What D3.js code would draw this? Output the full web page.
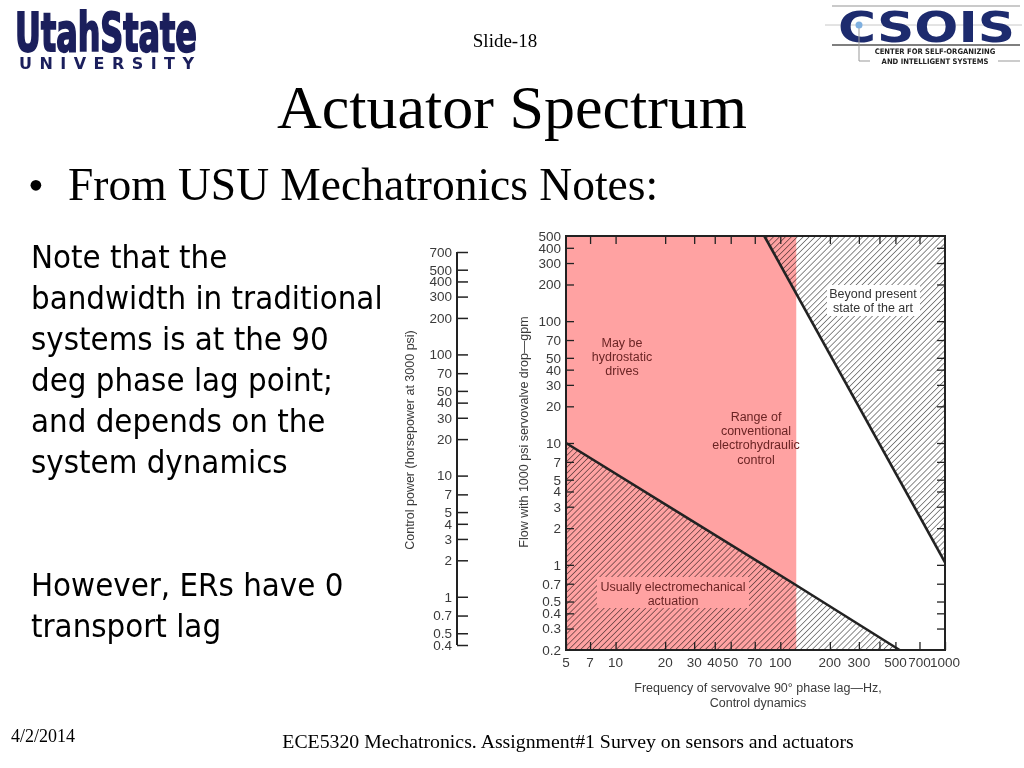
<!DOCTYPE html>
<html>
<head>
<meta charset="utf-8">
<script src="https://d3js.org/d3.v7.min.js"></script>
<style>
  body { margin: 0; background: #fff; }
  svg { display: block; }
</style>
</head>
<body>
<div id="slide"></div>
<script>
// Constants
const FRAME_WIDTH = 1024;
const FRAME_HEIGHT = 768;

// chart data
const FREQ_TICKS = [5, 7, 10, 20, 30, 40, 50, 70, 100, 200, 300, 400, 500, 700, 1000];
const FREQ_LABELS = [5, 7, 10, 20, 30, 40, 50, 70, 100, 200, 300, 500, 700, 1000];
const FLOW_TICKS = [500, 400, 300, 200, 100, 70, 50, 40, 30, 20, 10, 7, 5, 4, 3, 2, 1, 0.7, 0.5, 0.4, 0.3, 0.2];
const POWER_TICKS = [700, 500, 400, 300, 200, 100, 70, 50, 40, 30, 20, 10, 7, 5, 4, 3, 2, 1, 0.7, 0.5, 0.4];

// boundary lines [frequency Hz, flow gpm]
const ELECTROMECH_LINE = [[5, 10], [125, 0.68], [530, 0.2]];
const STATE_OF_ART_LINE = [[80, 500], [1000, 1.05]];
// conventional electrohydraulic range ends here (Hz)
const CONVENTIONAL_MAX = 125;

// slide texts
const NOTE_LINES = ["Note that the", "bandwidth in traditional", "systems is at the 90",
  "deg phase lag point;", "and depends on the", "system dynamics"];
const ER_LINES = ["However, ERs have 0", "transport lag"];

const svg = d3.select("#slide")
    .append("svg")
    .attr("width", FRAME_WIDTH)
    .attr("height", FRAME_HEIGHT);

// hatch pattern
const defs = svg.append("defs");
defs.append("pattern")
    .attr("id", "hatch")
    .attr("patternUnits", "userSpaceOnUse")
    .attr("width", 4.2)
    .attr("height", 4.2)
    .attr("patternTransform", "rotate(45)")
    .append("line")
    .attr("x1", 0).attr("y1", 0).attr("x2", 0).attr("y2", 4.2)
    .attr("stroke", "#2a2a2a")
    .attr("stroke-width", 1.1);

// ---------- slide header ----------
svg.append("text")
    .attr("x", 505).attr("y", 47)
    .attr("text-anchor", "middle")
    .attr("font-family", "Liberation Serif")
    .attr("font-size", 19)
    .text("Slide-18");

svg.append("text")
    .attr("x", 512).attr("y", 128)
    .attr("text-anchor", "middle")
    .attr("font-family", "Liberation Serif")
    .attr("font-size", 62)
    .text("Actuator Spectrum");

svg.append("text")
    .attr("x", 28).attr("y", 200)
    .attr("font-family", "Liberation Serif")
    .attr("font-size", 45)
    .text("•");
svg.append("text")
    .attr("x", 68).attr("y", 200)
    .attr("font-family", "Liberation Serif")
    .attr("font-size", 45.5)
    .text("From USU Mechatronics Notes:");

// left notes
svg.selectAll(".note")
    .data(NOTE_LINES)
    .enter()
    .append("text")
    .attr("class", "note")
    .attr("x", 31)
    .attr("y", (d, i) => 268 + i * 41)
    .attr("font-family", "DejaVu Sans Condensed, DejaVu Sans")
    .attr("font-size", 32.7)
    .text(d => d);

svg.selectAll(".er")
    .data(ER_LINES)
    .enter()
    .append("text")
    .attr("class", "er")
    .attr("x", 31)
    .attr("y", (d, i) => 596 + i * 41)
    .attr("font-family", "DejaVu Sans Condensed, DejaVu Sans")
    .attr("font-size", 32.7)
    .text(d => d);

// footer
svg.append("text")
    .attr("x", 11).attr("y", 742)
    .attr("font-family", "Liberation Serif")
    .attr("font-size", 18)
    .text("4/2/2014");
svg.append("text")
    .attr("x", 568).attr("y", 748)
    .attr("text-anchor", "middle")
    .attr("font-family", "Liberation Serif")
    .attr("font-size", 19.8)
    .text("ECE5320 Mechatronics. Assignment#1 Survey on sensors and actuators");

// ---------- logos ----------
const NAVY = "#1b1f5c";
svg.append("text")
    .attr("x", 15).attr("y", 51)
    .attr("font-family", "DejaVu Sans Condensed, DejaVu Sans")
    .attr("font-weight", "bold")
    .attr("font-size", 53)
    .attr("textLength", 182)
    .attr("lengthAdjust", "spacingAndGlyphs")
    .attr("fill", NAVY)
    .attr("stroke", NAVY)
    .attr("stroke-width", 2)
    .text("UtahState");
svg.append("text")
    .attr("x", 19).attr("y", 69)
    .attr("font-family", "DejaVu Sans")
    .attr("font-weight", "bold")
    .attr("font-size", 16)
    .attr("textLength", 175)
    .attr("lengthAdjust", "spacing")
    .attr("fill", NAVY)
    .text("UNIVERSITY");

const csois = svg.append("g");
csois.append("line")
    .attr("x1", 832).attr("x2", 1020).attr("y1", 6).attr("y2", 6)
    .attr("stroke", "#b8b8b8").attr("stroke-width", 1.5);
csois.append("line")
    .attr("x1", 825).attr("x2", 1022).attr("y1", 25).attr("y2", 25)
    .attr("stroke", "#c8c8c8").attr("stroke-width", 1);
csois.append("text")
    .attr("x", 838).attr("y", 42)
    .attr("font-family", "DejaVu Sans")
    .attr("font-weight", "bold")
    .attr("font-size", 42)
    .attr("textLength", 177)
    .attr("lengthAdjust", "spacingAndGlyphs")
    .attr("fill", "#1d2b6e")
    .text("CSOIS");
csois.append("line")
    .attr("x1", 832).attr("x2", 1020).attr("y1", 45).attr("y2", 45)
    .attr("stroke", "#555").attr("stroke-width", 1.5);
csois.append("polyline")
    .attr("points", "859,25 859,61 870,61")
    .attr("fill", "none")
    .attr("stroke", "#999").attr("stroke-width", 1);
csois.append("line")
    .attr("x1", 998).attr("x2", 1020).attr("y1", 61).attr("y2", 61)
    .attr("stroke", "#999").attr("stroke-width", 1);
csois.append("circle")
    .attr("cx", 859).attr("cy", 25).attr("r", 3.5)
    .attr("fill", "#7fb0e0");
csois.append("text")
    .attr("x", 935).attr("y", 54)
    .attr("text-anchor", "middle")
    .attr("font-family", "DejaVu Sans Condensed, DejaVu Sans")
    .attr("font-weight", "bold")
    .attr("font-size", 7.6)
    .attr("fill", "#222")
    .text("CENTER FOR SELF-ORGANIZING");
csois.append("text")
    .attr("x", 935).attr("y", 63.5)
    .attr("text-anchor", "middle")
    .attr("font-family", "DejaVu Sans Condensed, DejaVu Sans")
    .attr("font-weight", "bold")
    .attr("font-size", 7.6)
    .attr("fill", "#222")
    .text("AND INTELLIGENT SYSTEMS");

// ---------- chart ----------
const PLOT = { left: 566, right: 945, top: 236, bottom: 650 };

const X_SCALE = d3.scaleLog()
    .domain([5, 1000])
    .range([PLOT.left, PLOT.right]);
const Y_SCALE = d3.scaleLog()
    .domain([0.2, 500])
    .range([PLOT.bottom, PLOT.top]);
const P_SCALE = d3.scaleLog()
    .domain([0.4, 700])
    .range([645, 252]);

const chart = svg.append("g").attr("font-family", "Liberation Sans");
const INK = "#222";
const LABEL = "#3a3a3a";

// hatched areas
const lowerArea = ELECTROMECH_LINE.map(d => [X_SCALE(d[0]), Y_SCALE(d[1])])
    .concat([[X_SCALE(5), Y_SCALE(0.2)]]);
const upperArea = STATE_OF_ART_LINE.map(d => [X_SCALE(d[0]), Y_SCALE(d[1])])
    .concat([[X_SCALE(1000), Y_SCALE(500)]]);

chart.selectAll(".hatch")
    .data([lowerArea, upperArea])
    .enter()
    .append("path")
    .attr("class", "hatch")
    .attr("d", d => d3.line()(d) + "Z")
    .attr("fill", "url(#hatch)");

// label boxes cut out of the hatch
chart.append("rect")
    .attr("x", 597).attr("y", 577).attr("width", 152).attr("height", 31)
    .attr("fill", "#fff");
chart.append("rect")
    .attr("x", 827).attr("y", 285).attr("width", 93).attr("height", 31)
    .attr("fill", "#fff");

// conventional electrohydraulic range (pink)
chart.append("rect")
    .attr("x", X_SCALE(5))
    .attr("y", Y_SCALE(500))
    .attr("width", X_SCALE(CONVENTIONAL_MAX) - X_SCALE(5))
    .attr("height", Y_SCALE(0.2) - Y_SCALE(500))
    .attr("fill", "#ffa2a2")
    .style("mix-blend-mode", "multiply");

// boundary lines
chart.selectAll(".boundary")
    .data([ELECTROMECH_LINE, STATE_OF_ART_LINE])
    .enter()
    .append("path")
    .attr("class", "boundary")
    .attr("d", d3.line().x(d => X_SCALE(d[0])).y(d => Y_SCALE(d[1])))
    .attr("fill", "none")
    .attr("stroke", INK)
    .attr("stroke-width", 2.6);

// frame with inward ticks on all four sides
chart.append("g")
    .attr("transform", "translate(0," + PLOT.bottom + ")")
    .call(d3.axisTop(X_SCALE).tickValues(FREQ_TICKS).tickSize(8).tickFormat(""))
    .call(g => g.select(".domain").remove());
chart.append("g")
    .attr("transform", "translate(0," + PLOT.top + ")")
    .call(d3.axisBottom(X_SCALE).tickValues(FREQ_TICKS.slice(1, -1)).tickSize(8).tickFormat(""))
    .call(g => g.select(".domain").remove());
chart.append("g")
    .attr("transform", "translate(" + PLOT.left + ",0)")
    .call(d3.axisRight(Y_SCALE).tickValues(FLOW_TICKS.slice(1, -1)).tickSize(8).tickFormat(""))
    .call(g => g.select(".domain").remove());
chart.append("g")
    .attr("transform", "translate(" + PLOT.right + ",0)")
    .call(d3.axisLeft(Y_SCALE).tickValues(FLOW_TICKS.slice(1, -1)).tickSize(8).tickFormat(""))
    .call(g => g.select(".domain").remove());
chart.selectAll(".tick line")
    .attr("stroke", INK)
    .attr("stroke-width", 1.3);

chart.append("rect")
    .attr("x", PLOT.left).attr("y", PLOT.top)
    .attr("width", PLOT.right - PLOT.left)
    .attr("height", PLOT.bottom - PLOT.top)
    .attr("fill", "none")
    .attr("stroke", INK)
    .attr("stroke-width", 2);

// tick labels
chart.selectAll(".xlab")
    .data(FREQ_LABELS)
    .enter()
    .append("text")
    .attr("class", "xlab")
    .attr("x", d => X_SCALE(d))
    .attr("y", 667)
    .attr("text-anchor", "middle")
    .attr("font-size", 13.5)
    .attr("fill", LABEL)
    .text(d => d);

chart.selectAll(".ylab")
    .data(FLOW_TICKS)
    .enter()
    .append("text")
    .attr("class", "ylab")
    .attr("x", 561)
    .attr("y", d => Y_SCALE(d))
    .attr("dy", "0.36em")
    .attr("text-anchor", "end")
    .attr("font-size", 13.5)
    .attr("fill", LABEL)
    .text(d => d);

// control power axis
const powerAxis = chart.append("g")
    .attr("transform", "translate(457,0)")
    .call(d3.axisRight(P_SCALE).tickValues(POWER_TICKS).tickSize(11).tickFormat(""));
powerAxis.select(".domain")
    .attr("d", "M0," + P_SCALE(700) + "V" + P_SCALE(0.4))
    .attr("stroke", INK)
    .attr("stroke-width", 2);
powerAxis.selectAll(".tick line")
    .attr("stroke", INK)
    .attr("stroke-width", 1.5);

chart.selectAll(".plab")
    .data(POWER_TICKS)
    .enter()
    .append("text")
    .attr("class", "plab")
    .attr("x", 452)
    .attr("y", d => P_SCALE(d))
    .attr("dy", "0.36em")
    .attr("text-anchor", "end")
    .attr("font-size", 13.5)
    .attr("fill", LABEL)
    .text(d => d);

// axis titles
chart.append("text")
    .attr("transform", "translate(414,440) rotate(-90)")
    .attr("text-anchor", "middle")
    .attr("font-size", 12.5)
    .attr("fill", LABEL)
    .text("Control power (horsepower at 3000 psi)");
chart.append("text")
    .attr("transform", "translate(528,432) rotate(-90)")
    .attr("text-anchor", "middle")
    .attr("font-size", 12.5)
    .attr("fill", LABEL)
    .text("Flow with 1000 psi servovalve drop\u2014gpm");
chart.append("text")
    .attr("x", 758).attr("y", 692)
    .attr("text-anchor", "middle")
    .attr("font-size", 12.5)
    .attr("fill", LABEL)
    .text("Frequency of servovalve 90\u00b0 phase lag\u2014Hz,");
chart.append("text")
    .attr("x", 758).attr("y", 707)
    .attr("text-anchor", "middle")
    .attr("font-size", 12.5)
    .attr("fill", LABEL)
    .text("Control dynamics");

// region labels
const REGION_LABELS = [
    { lines: ["May be", "hydrostatic", "drives"], x: 622, y: 347, color: "#6b2424" },
    { lines: ["Range of", "conventional", "electrohydraulic", "control"], x: 756, y: 421, color: "#6b2424" },
    { lines: ["Usually electromechanical", "actuation"], x: 673, y: 591, color: "#6b2424" },
    { lines: ["Beyond present", "state of the art"], x: 873, y: 298, color: "#333" }
];
REGION_LABELS.forEach(r => {
    chart.append("text")
        .attr("text-anchor", "middle")
        .attr("font-size", 12.5)
        .attr("fill", r.color)
        .selectAll("tspan")
        .data(r.lines)
        .enter()
        .append("tspan")
        .attr("x", r.x)
        .attr("y", (d, i) => r.y + i * 14.2)
        .text(d => d);
});
</script>
</body>
</html>
